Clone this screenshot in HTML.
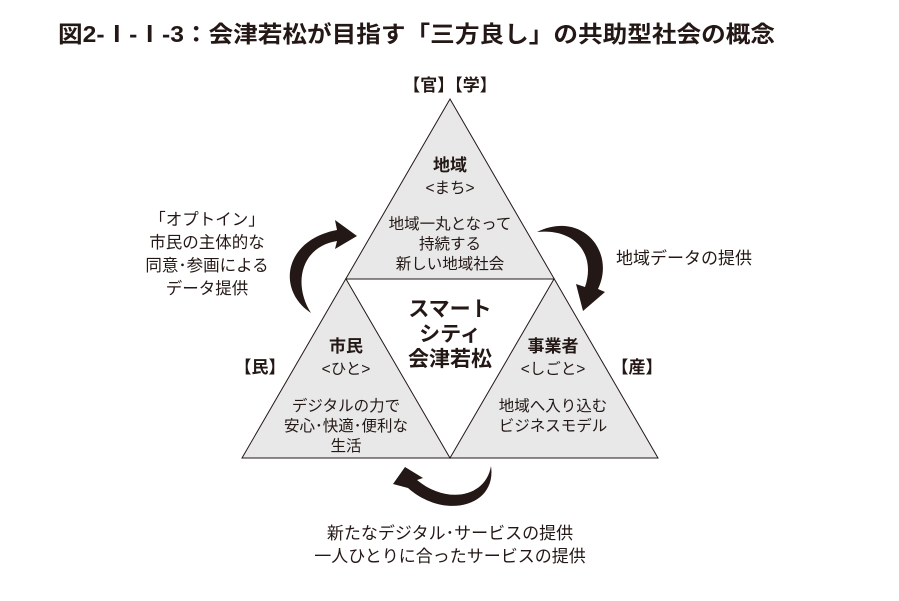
<!DOCTYPE html>
<html><head><meta charset="utf-8"><style>
body{margin:0;background:#fff;}
svg text{font-family:"Liberation Sans","Noto Sans CJK JP",sans-serif;fill:#231815;}
</style></head><body>
<svg width="899" height="596" viewBox="0 0 899 596" xmlns="http://www.w3.org/2000/svg">
<text x="58" y="42" font-size="23" font-weight="bold" textLength="717" lengthAdjust="spacingAndGlyphs">図2-Ⅰ-Ⅰ-3：会津若松が目指す「三方良し」の共助型社会の概念</text>
<polygon points="450,99 658,458 242,458" fill="#e8e8e8" stroke="#231815" stroke-width="1"/>
<polygon points="346,279 554,279 450,458" fill="#fff" stroke="#231815" stroke-width="1"/>
<g text-anchor="middle">
<text x="450" y="91" font-size="17" font-weight="bold">【官】【学】</text>
<text x="450" y="171" font-size="17" font-weight="bold">地域</text>
<text x="450" y="193" font-size="15.5">&lt;まち&gt;</text>
<text x="450" y="229" font-size="15.5">地域一丸となって</text>
<text x="450" y="249" font-size="15.5">持続する</text>
<text x="450" y="269" font-size="15.5">新しい地域社会</text>
<text x="450" y="316" font-size="21" font-weight="bold">スマート</text>
<text x="450" y="341" font-size="21" font-weight="bold">シティ</text>
<text x="450" y="366" font-size="21" font-weight="bold">会津若松</text>
<text x="346" y="352" font-size="17" font-weight="bold">市民</text>
<text x="346" y="374" font-size="15.5">&lt;ひと&gt;</text>
<text x="346" y="411" font-size="15.5">デジタルの力で</text>
<text x="346" y="431" font-size="15.5">安心･快適･便利な</text>
<text x="346" y="451" font-size="15.5">生活</text>
<text x="553" y="352" font-size="17" font-weight="bold">事業者</text>
<text x="553" y="374" font-size="15.5">&lt;しごと&gt;</text>
<text x="553" y="411" font-size="15.5">地域へ入り込む</text>
<text x="553" y="431" font-size="15.5">ビジネスモデル</text>
<text x="260" y="373" font-size="17" font-weight="bold">【民】</text>
<text x="637" y="373" font-size="17" font-weight="bold">【産】</text>
<text x="207" y="225" font-size="16.5">「オプトイン」</text>
<text x="207" y="248" font-size="16.5">市民の主体的な</text>
<text x="207" y="271" font-size="16.5">同意･参画による</text>
<text x="207" y="294" font-size="16.5">データ提供</text>
<text x="450" y="539" font-size="17">新たなデジタル･サービスの提供</text>
<text x="450" y="562" font-size="17">一人ひとりに合ったサービスの提供</text>
</g>
<text x="616" y="264" font-size="17">地域データの提供</text>
<g fill="#231815">
<path d="M311,313 C276,290 284,240 337,230 L335,220 L357,236 L335,249 L337,241 C300,247 293,285 311,313 Z"/>
<path d="M537,232 C582,210 616,252 598,289 L605,292 L583,311 L576,284 L585,287 C596,255 576,228 537,232 Z"/>
<path d="M491,466 C497,507 444,520 408,488 L393,484 L405,467 L423,478 L417,480 C447,505 486,497 491,466 Z"/>
</g>
</svg>
</body></html>
